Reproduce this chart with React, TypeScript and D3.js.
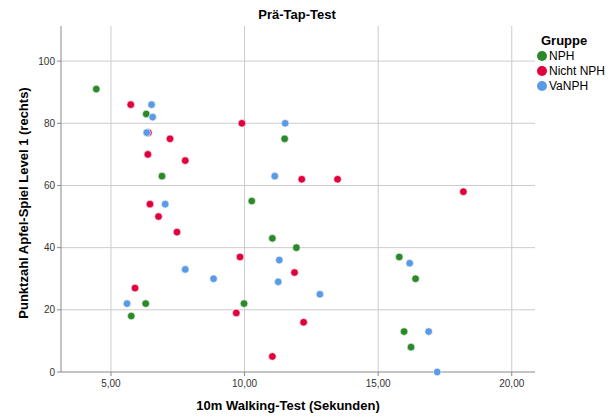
import React from "react";
import * as d3 from "d3";

const groups = ["NPH", "Nicht NPH", "VaNPH"];
const groupColors = ["#2a8a2a", "#e2003c", "#5b9be6"];

const nphX = [4.45, 6.32, 11.5, 6.91, 10.27, 11.04, 11.94, 6.3, 9.98, 5.76, 15.79, 16.4, 15.97, 16.23];
const nphY = [91, 83, 75, 63, 55, 43, 40, 22, 22, 18, 37, 30, 13, 8];

const nichtX = [5.74, 9.9, 6.4, 7.21, 6.38, 7.78, 12.14, 13.48, 18.19, 6.46, 6.78, 7.47, 9.83, 11.87, 5.9, 9.69, 12.21, 11.04];
const nichtY = [86, 80, 77, 75, 70, 68, 62, 62, 58, 54, 50, 45, 37, 32, 27, 19, 16, 5];

const vaX = [6.52, 6.56, 11.52, 6.34, 11.13, 7.03, 11.3, 7.78, 8.84, 11.26, 5.6, 16.18, 12.82, 16.89, 17.21];
const vaY = [86, 82, 80, 77, 63, 54, 36, 33, 30, 29, 22, 35, 25, 13, 0];

const xTicks = [5, 10, 15, 20];
const yTicks = [0, 20, 40, 60, 80, 100];

const title = "Prä-Tap-Test";
const xLabel = "10m Walking-Test (Sekunden)";
const yLabel = "Punktzahl Apfel-Spiel Level 1 (rechts)";
const legendTitle = "Gruppe";

export default function App() {
  const W = 614, H = 419;
  const left = 61, right = 535, top = 26, bottom = 372;
  const x = d3.scaleLinear().domain([3.13, 20.87]).range([left, right]);
  const y = d3.scaleLinear().domain([0, 111.3]).range([bottom, top]);
  const fmt = (v: number) => d3.format(".2f")(v).replace(".", ",");
  const font = "'Liberation Sans', Arial, sans-serif";
  const series = [
    { xs: nphX, ys: nphY },
    { xs: nichtX, ys: nichtY },
    { xs: vaX, ys: vaY },
  ];
  return (
    <svg width={W} height={H} style={{ position: "absolute", left: 0, top: 0, background: "#fff" }} fontFamily={font}>
      {xTicks.map((t) => (
        <line key={"gx" + t} x1={x(t)} x2={x(t)} y1={top} y2={bottom} stroke="#cccccc" strokeWidth={1} />
      ))}
      {yTicks.filter((t) => t > 0).map((t) => (
        <line key={"gy" + t} x1={left} x2={right} y1={y(t)} y2={y(t)} stroke="#cccccc" strokeWidth={1} />
      ))}
      <line x1={left} x2={left} y1={top} y2={bottom} stroke="#888" strokeWidth={1} />
      <line x1={left} x2={right} y1={bottom} y2={bottom} stroke="#888" strokeWidth={1} />
      {yTicks.map((t) => (
        <g key={"yt" + t}>
          <line x1={left - 4} x2={left} y1={y(t)} y2={y(t)} stroke="#888" />
          <text x={left - 6} y={y(t)} dy="0.35em" textAnchor="end" fontSize={10} fill="#333">{t}</text>
        </g>
      ))}
      {xTicks.map((t) => (
        <g key={"xt" + t}>
          <line x1={x(t)} x2={x(t)} y1={bottom} y2={bottom + 4} stroke="#888" />
          <text x={x(t)} y={bottom + 15} textAnchor="middle" fontSize={10} fill="#333">{fmt(t)}</text>
        </g>
      ))}
      {series.map((s, gi) =>
        s.xs.map((xv, i) => (
          <circle key={gi + "-" + i} cx={x(xv)} cy={y(s.ys[i])} r={3.8} fill={groupColors[gi]} stroke="#fff" strokeWidth={0.6} />
        ))
      )}
      <text x={297} y={19} textAnchor="middle" fontSize={13} fontWeight="bold" fill="#000">{title}</text>
      <text x={288} y={410} textAnchor="middle" fontSize={13} fontWeight="bold" fill="#000">{xLabel}</text>
      <text transform={`translate(28, 203) rotate(-90)`} textAnchor="middle" fontSize={13} fontWeight="bold" fill="#000">{yLabel}</text>
      <text x={541} y={45} fontSize={13} fontWeight="bold" fill="#000">{legendTitle}</text>
      {groups.map((g, i) => (
        <g key={g}>
          <circle cx={542} cy={56 + i * 15} r={5} fill={groupColors[i]} />
          <text x={549} y={56 + i * 15} dy="0.35em" fontSize={12} fill="#000">{g}</text>
        </g>
      ))}
    </svg>
  );
}
